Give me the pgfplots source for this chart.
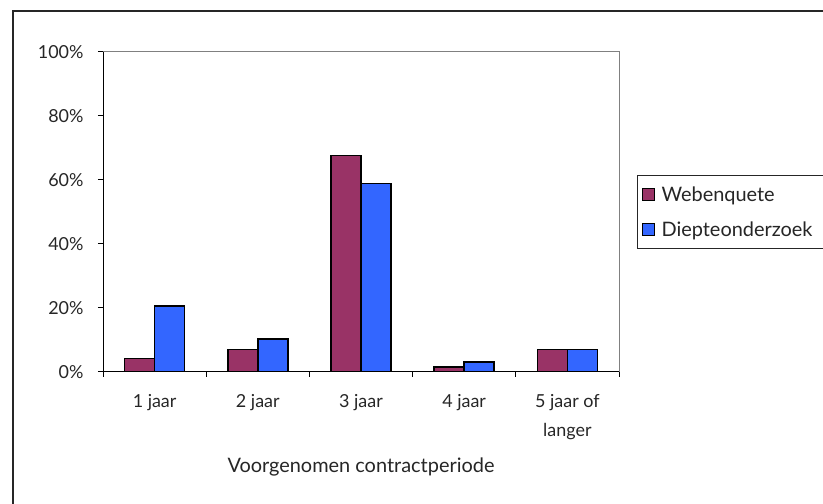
\documentclass[border=0pt]{standalone}
\usepackage{pgfplots}
\pgfplotsset{compat=1.18}
\usepackage{fontspec}
\setmainfont{Lato}
\definecolor{web}{HTML}{993366}
\definecolor{diep}{HTML}{3366FF}
\begin{document}
\begin{tikzpicture}[x=1bp,y=1bp]
\useasboundingbox (0bp,0bp) rectangle (823bp,504bp);
\clip (0bp,0bp) rectangle (823bp,504bp);
\draw[line width=1.5bp, black!85] (13bp,493bp) rectangle (900bp,-40bp);
\begin{axis}[
  at={(103bp,132.3bp)}, anchor=south west,
  scale only axis, width=516bp, height=320bp,
  xmin=-0.5, xmax=4.5, ymin=0, ymax=100,
  ybar=0pt, bar width=30bp,
  /pgf/number format/assume math mode=true,
  axis line style={draw=gray, line width=1bp},
  ytick={0,20,...,100},
  yticklabel={\pgfmathprintnumber{\tick}\%},
  ytick pos=left, xtick pos=bottom,
  tick align=outside,
  major tick length=5bp,
  minor tick length=5bp,
  tick style={black, line width=0.8bp},
  xtick={0,1,2,3,4},
  xticklabels={1 jaar, 2 jaar, 3 jaar, 4 jaar, {5 jaar of\\langer}},
  x tick style={draw=none},
  minor xtick={-0.5,0.5,1.5,2.5,3.5,4.5},
  minor x tick style={draw=black},
  xticklabel style={align=center, anchor=north, yshift=-14bp, font=\fontsize{18}{29}\selectfont, text=black!85},
  yticklabel style={anchor=east, xshift=-11bp, font=\fontsize{18}{20}\selectfont, text=black!85},
  xlabel={Voorgenomen contractperiode},
  xlabel style={at={(axis description cs:0.5,0)}, anchor=center, yshift=-95bp, font=\fontsize{20}{22}\selectfont, text=black!85},
  legend style={at={(rel axis cs:1.035,0.615)}, anchor=north west, draw=black!85, line width=1bp,
    font=\fontsize{20}{22}\selectfont, text=black!85, row sep=15bp, inner xsep=4bp, inner ysep=9bp},
  every axis plot post/.append style={legend image code/.code={\draw[##1, draw=black, line width=1bp] (7bp,-6bp) rectangle (19bp,6bp);}},
  legend cell align=left,
]
\addplot[fill=web, draw=black, line width=1.5bp] coordinates {(0,4.2) (1,6.9) (2,67.5) (3,1.5) (4,6.9)};
\addplot[fill=diep, draw=black, line width=1.5bp] coordinates {(0,20.6) (1,10.2) (2,58.75) (3,3.1) (4,6.9)};
\legend{\kern5bp Webenquete, \kern5bp Diepteonderzoek\kern40bp\hbox{}}
\draw[black, line width=1.2bp] (rel axis cs:0,1) -- (rel axis cs:0,0) -- (rel axis cs:1,0);
\end{axis}
\end{tikzpicture}
\end{document}
